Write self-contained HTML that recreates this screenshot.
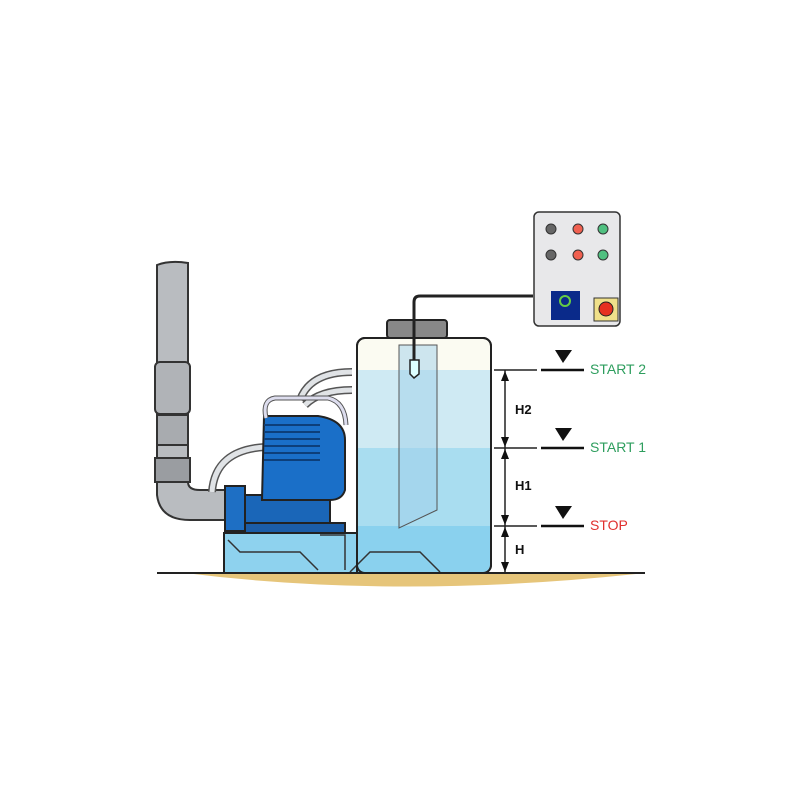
<!DOCTYPE html>
<html><head><style>body{margin:0;background:#fff}svg{display:block}</style></head><body>
<svg width="800" height="800" viewBox="0 0 800 800" xmlns="http://www.w3.org/2000/svg" font-family="Liberation Sans, sans-serif">
<path d="M185 573 Q400 600 645 573 Z" fill="#e6c57a"/>
<line x1="157" y1="573" x2="645" y2="573" stroke="#222" stroke-width="2"/>
<path d="M224 533 H357 V573 H224 Z" fill="#8ed2ee" stroke="#222" stroke-width="2"/>
<path d="M228 540 L240 552 H300 L318 570" fill="none" stroke="#333" stroke-width="1.5"/>
<path d="M320 535 H345 V570" fill="none" stroke="#333" stroke-width="1.5"/>
<rect x="357" y="338" width="134" height="235" rx="8" fill="#fbfbf2" stroke="#222" stroke-width="2"/>
<rect x="358" y="370" width="132" height="78" fill="#cfeaf3"/>
<rect x="358" y="448" width="132" height="78" fill="#a9ddf0"/>
<path d="M358 526 H490 V565 Q490 572 483 572 H358 Z" fill="#8ad1ee"/>
<path d="M350 572 L370 552 H420 L440 572" fill="none" stroke="#333" stroke-width="1.5"/>
<rect x="357" y="338" width="134" height="235" rx="8" fill="none" stroke="#222" stroke-width="2"/>
<path d="M399 345 H437 V510 L399 528 Z" fill="#9fd0ea" fill-opacity="0.5" stroke="#555" stroke-width="1"/>
<rect x="387" y="320" width="60" height="18" rx="3" fill="#888" stroke="#222" stroke-width="2"/>
<path d="M414 362 V302 Q414 296 420 296 H533" fill="none" stroke="#222" stroke-width="3"/>
<path d="M410 360 H419 V374 L414 378 L410 374 Z" fill="#dff" stroke="#222" stroke-width="1.5"/>
<path d="M157 265 Q170 260 188 263 V470 H157 Z" fill="#b9bcc0" stroke="#333" stroke-width="2"/>
<rect x="155" y="362" width="35" height="52" rx="5" fill="#b0b3b7" stroke="#333" stroke-width="2"/>
<rect x="157" y="415" width="31" height="30" fill="#a8abaf" stroke="#333" stroke-width="2"/>
<rect x="155" y="458" width="35" height="24" fill="#9a9da1" stroke="#333" stroke-width="2"/>
<path d="M157 482 V495 Q160 520 190 520 H230 V490 H200 Q188 490 188 482 Z" fill="#b9bcc0" stroke="#333" stroke-width="2"/>
<path d="M212 492 Q215 450 265 447" fill="none" stroke="#555" stroke-width="8"/>
<path d="M212 492 Q215 450 265 447" fill="none" stroke="#e0e3e6" stroke-width="5"/>
<path d="M300 400 Q310 372 352 372" fill="none" stroke="#555" stroke-width="8"/>
<path d="M300 400 Q310 372 352 372" fill="none" stroke="#e0e3e6" stroke-width="5"/>
<path d="M305 405 Q320 390 352 390" fill="none" stroke="#555" stroke-width="8"/>
<path d="M305 405 Q320 390 352 390" fill="none" stroke="#e0e3e6" stroke-width="5"/>
<rect x="225" y="486" width="20" height="45" fill="#1e6fc4" stroke="#222" stroke-width="2"/>
<rect x="245" y="495" width="85" height="28" fill="#1a66b8" stroke="#222" stroke-width="2"/>
<path d="M264 416 H318 Q345 420 345 440 V490 Q342 500 330 500 H262 Z" fill="#1a6fc8" stroke="#222" stroke-width="2"/>
<g stroke="#0d3f7a" stroke-width="2"><line x1="264" y1="425" x2="320" y2="425"/><line x1="264" y1="432" x2="320" y2="432"/><line x1="264" y1="439" x2="320" y2="439"/><line x1="264" y1="446" x2="320" y2="446"/><line x1="264" y1="453" x2="320" y2="453"/><line x1="264" y1="460" x2="320" y2="460"/></g>
<path d="M245 523 H345 V533 H245 Z" fill="#1b5da8" stroke="#222" stroke-width="2"/>
<path d="M266 418 Q262 400 275 398 H328 Q345 402 346 425" fill="none" stroke="#555" stroke-width="5"/>
<path d="M266 418 Q262 400 275 398 H328 Q345 402 346 425" fill="none" stroke="#dde" stroke-width="3"/>
<g stroke="#222" stroke-width="1.5">
<line x1="505" y1="370" x2="505" y2="573"/>
<line x1="494" y1="370" x2="537" y2="370"/><line x1="494" y1="448" x2="537" y2="448"/><line x1="494" y1="526" x2="537" y2="526"/>
</g>
<g stroke="#111" stroke-width="2.5"><line x1="541" y1="370" x2="584" y2="370"/><line x1="541" y1="448" x2="584" y2="448"/><line x1="541" y1="526" x2="584" y2="526"/></g>
<g fill="#111">
<path d="M555 350 H572 L563 363 Z"/><path d="M555 428 H572 L563 441 Z"/><path d="M555 506 H572 L563 519 Z"/>
<path d="M505 371 l-4 10 h8 Z"/><path d="M505 447 l-4 -10 h8 Z"/><path d="M505 449 l-4 10 h8 Z"/><path d="M505 525 l-4 -10 h8 Z"/><path d="M505 527 l-4 10 h8 Z"/><path d="M505 572 l-4 -10 h8 Z"/>
</g>
<g font-size="13" font-weight="bold" fill="#111"><text x="515" y="414">H2</text><text x="515" y="490">H1</text><text x="515" y="554">H</text></g>
<g font-size="14"><text x="590" y="374" fill="#2e9e5e">START 2</text><text x="590" y="452" fill="#2e9e5e">START 1</text><text x="590" y="530" fill="#e0302e">STOP</text></g>
<rect x="534" y="212" width="86" height="114" rx="5" fill="#e8e8ea" stroke="#333" stroke-width="1.5"/>
<g stroke="#333" stroke-width="1"><circle cx="551" cy="229" r="5" fill="#666"/><circle cx="551" cy="255" r="5" fill="#666"/>
<circle cx="578" cy="229" r="5" fill="#f06050"/><circle cx="578" cy="255" r="5" fill="#f06050"/>
<circle cx="603" cy="229" r="5" fill="#50c080"/><circle cx="603" cy="255" r="5" fill="#50c080"/></g>
<rect x="551" y="291" width="29" height="29" fill="#0a2a8a"/>
<circle cx="565" cy="301" r="5" fill="none" stroke="#6c4" stroke-width="2"/>
<rect x="594" y="298" width="24" height="23" fill="#f0e08a" stroke="#333"/>
<circle cx="606" cy="309" r="7" fill="#e63020" stroke="#222"/>
</svg>
</body></html>
